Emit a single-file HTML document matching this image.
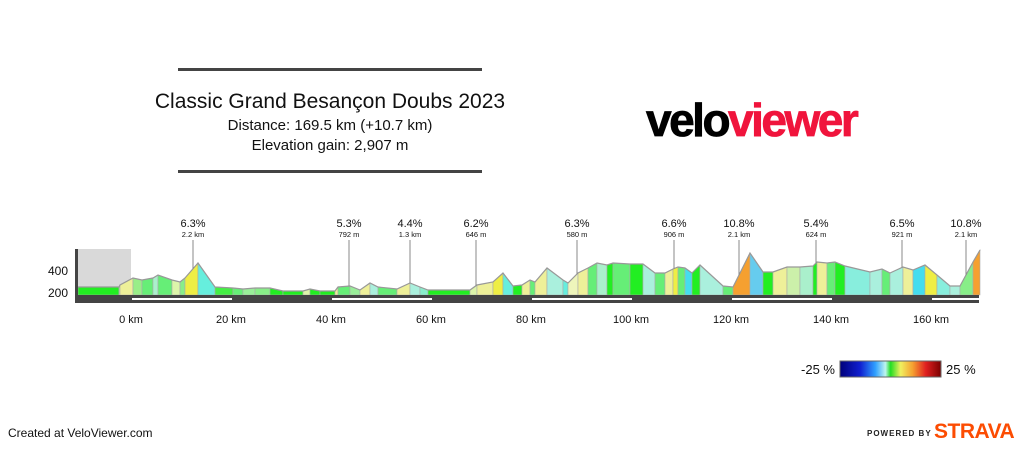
<!DOCTYPE html>
<html><head><meta charset="utf-8"><style>
body{margin:0;width:1024px;height:444px;background:#fff;overflow:hidden;font-family:"Liberation Sans",Arial,sans-serif}
</style></head><body>
<svg id="s" width="1024" height="444" xmlns="http://www.w3.org/2000/svg" font-family="Liberation Sans, Arial, sans-serif">
<rect x="178" y="68" width="304" height="3" fill="#444"/>
<rect x="178" y="170" width="304" height="3" fill="#444"/>
<text x="330" y="108" font-size="21" text-anchor="middle" fill="#111">Classic Grand Besançon Doubs 2023</text>
<text x="330" y="130" font-size="15" text-anchor="middle" fill="#111">Distance: 169.5 km (+10.7 km)</text>
<text x="330" y="150" font-size="15" text-anchor="middle" fill="#111">Elevation gain: 2,907 m</text>
<text x="646" y="136" font-size="46" font-weight="bold" letter-spacing="-2.5" fill="#000" stroke="#000" stroke-width="0.8">velo<tspan fill="#f0143c" stroke="#f0143c">viewer</tspan></text>
<rect x="78" y="249" width="53" height="38" fill="#d9d9d9"/>
<g id="prof"></g>
<rect x="75" y="249" width="3" height="54" fill="#444"/>
<rect x="75" y="295" width="904" height="8" fill="#444"/>
<g fill="#fff"><rect x="132" y="298" width="100" height="2"/><rect x="332" y="298" width="100" height="2"/><rect x="532" y="298" width="100" height="2"/><rect x="732" y="298" width="100" height="2"/><rect x="932" y="298" width="47" height="2"/></g>
<g font-size="12" fill="#111"><text x="48" y="275">400</text><text x="48" y="297">200</text></g>
<g font-size="11" fill="#111" text-anchor="middle"><text x="131" y="323">0 km</text><text x="231" y="323">20 km</text><text x="331" y="323">40 km</text><text x="431" y="323">60 km</text><text x="531" y="323">80 km</text><text x="631" y="323">100 km</text><text x="731" y="323">120 km</text><text x="831" y="323">140 km</text><text x="931" y="323">160 km</text></g>
<g id="ann"></g>
<defs><linearGradient id="g"><stop offset="0" stop-color="#00007a"/><stop offset="0.2" stop-color="#1020d0"/><stop offset="0.35" stop-color="#30a0ff"/><stop offset="0.45" stop-color="#bff5f0"/><stop offset="0.5" stop-color="#22dd22"/><stop offset="0.6" stop-color="#f0f060"/><stop offset="0.72" stop-color="#f5a030"/><stop offset="0.85" stop-color="#e02020"/><stop offset="1" stop-color="#7a0000"/></linearGradient></defs>
<rect x="840" y="361" width="101" height="16" fill="url(#g)" stroke="#666"/>
<text x="835" y="374" font-size="13" text-anchor="end" fill="#111">-25 %</text>
<text x="946" y="374" font-size="13" fill="#111">25 %</text>
<text x="8" y="437" font-size="12" fill="#111">Created at VeloViewer.com</text>
<text x="867" y="436" font-size="8" font-weight="bold" letter-spacing="1" fill="#222">POWERED BY</text>
<text x="934" y="438" font-size="21" font-weight="bold" letter-spacing="-0.5" fill="#fc4c02">STRAVA</text>
</svg>
<script>
var P=[[78,287],[119,287],[120,285],[133,278],[142,280],[153,278],[158,275],[172,280],[180,282],[185,278],[198,263],[215,287],[233,288],[243,289],[255,288],[270,288],[283,291],[303,291],[310,289],[320,291],[335,291],[338,287],[350,286],[360,290],[370,283],[378,287],[397,289],[410,283],[420,287],[428,290],[470,290],[477,285],[493,282],[503,273],[513,286],[522,285],[530,280],[535,282],[547,268],[563,280],[568,283],[578,273],[588,268],[597,263],[607,265],[613,263],[630,264],[643,264],[655,273],[665,273],[673,269],[678,267],[685,268],[692,273],[700,265],[723,286],[733,287],[750,253],[763,272],[773,272],[787,267],[800,267],[813,266],[817,262],[827,263],[835,262],[845,266],[870,272],[882,269],[890,273],[903,267],[913,270],[925,265],[937,275],[950,286],[960,286],[973,262],[980,250]];
var C=["#22ee22","#ddf5aa","#eef099","#99ee88","#66ee77","#aaf0cc","#66ee77","#ddf5aa","#88ee88","#eeee44","#66eedd","#44ee44","#66ee77","#99ee99","#88ee88","#22ee22","#22ee22","#ddf5aa","#22ee22","#22ee22","#eef099","#66ee77","#99ee99","#eef099","#aaf0dd","#66ee77","#eef099","#aaf0dd","#88eecc","#22ee22","#ddf5aa","#eef099","#eeee44","#66eedd","#22ee22","#eef099","#66ee77","#eef099","#aaf0dd","#66eedd","#eef5bb","#eef099","#66ee77","#aaf0cc","#22ee22","#66ee77","#22ee22","#aaf0dd","#66ee77","#eef099","#eeee44","#66ee77","#44ddee","#22ee22","#aaf0dd","#66ee77","#f5a030","#66ccee","#22ee22","#eef099","#ccf0aa","#aaf0cc","#22ee22","#eef099","#66ee77","#22ee22","#88eedd","#aaf0dd","#66ee77","#aaf0dd","#eef099","#44ddee","#eeee44","#88eedd","#aaf0dd","#88ee88","#f5a030","#eecc30"];
var h='';for(var i=0;i<P.length-1;i++){var a=P[i],b=P[i+1];h+='<polygon points="'+a[0]+',295 '+a[0]+','+a[1]+' '+b[0]+','+b[1]+' '+b[0]+',295" fill="'+C[i%C.length]+'" stroke="#aaa" stroke-width="0.6"/>';}
h+='<polyline fill="none" stroke="#999" stroke-width="1.2" points="'+P.map(function(p){return p.join(',')}).join(' ')+'"/>';
document.getElementById('prof').innerHTML=h;
function yAt(x){for(var i=0;i<P.length-1;i++){if(x>=P[i][0]&&x<=P[i+1][0]){var t=(x-P[i][0])/(P[i+1][0]-P[i][0]);return P[i][1]+t*(P[i+1][1]-P[i][1]);}}return 280;}
var A=[[193,"6.3%","2.2 km"],[349,"5.3%","792 m"],[410,"4.4%","1.3 km"],[476,"6.2%","646 m"],[577,"6.3%","580 m"],[674,"6.6%","906 m"],[739,"10.8%","2.1 km"],[816,"5.4%","624 m"],[902,"6.5%","921 m"],[966,"10.8%","2.1 km"]];
var s='';A.forEach(function(a){s+='<text x="'+a[0]+'" y="227" font-size="11" text-anchor="middle" fill="#111">'+a[1]+'</text><text x="'+a[0]+'" y="237" font-size="7.5" text-anchor="middle" fill="#111">'+a[2]+'</text><line x1="'+a[0]+'" y1="240" x2="'+a[0]+'" y2="'+yAt(a[0])+'" stroke="#888" stroke-width="1"/>';});
document.getElementById('ann').innerHTML=s;
</script>
</body></html>
